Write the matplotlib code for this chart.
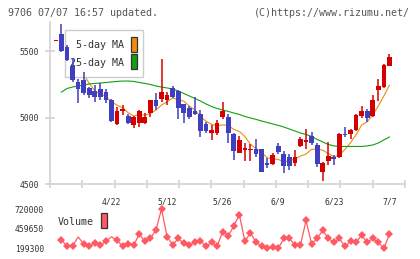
#!/usr/bin/env python3

import numpy as np
import matplotlib
matplotlib.use('Agg')
import matplotlib.pyplot as plt
from matplotlib.patches import Rectangle

# daily candles, oldest first
opens = [5575, 5625, 5532, 5388, 5270, 5283, 5220, 5203, 5213, 5195,
         5133, 4953, 5050, 5013, 4945, 4958, 4963, 5038, 5133, 5138,
         5133, 5220, 5200, 5103, 5075, 5050, 5028, 4953, 4888, 4888,
         5008, 5003, 4878, 4738, 4758, 4755, 4763, 4763, 4658, 4650,
         4788, 4728, 4703, 4663, 4788, 4818, 4863, 4795, 4595, 4678,
         4698, 4703, 4873, 4878, 4908, 5013, 5053, 5013, 5208, 5233,
         5390]
highs = [5580, 5700, 5545, 5445, 5288, 5345, 5228, 5245, 5258, 5218,
         5140, 5083, 5095, 5030, 5015, 5060, 5035, 5133, 5183, 5440,
         5195, 5235, 5205, 5103, 5088, 5153, 5058, 4968, 4945, 4983,
         5120, 5028, 4883, 4863, 4808, 4803, 4838, 4763, 4695, 4738,
         4808, 4753, 4728, 4758, 4858, 4915, 4895, 4810, 4668, 4820,
         4720, 4883, 4930, 4918, 5030, 5085, 5065, 5170, 5288, 5403,
         5478]
lows = [5575, 5495, 5425, 5265, 5108, 5170, 5150, 5120, 5133, 5110,
        4970, 4945, 5020, 4955, 4925, 4930, 4955, 5003, 5058, 5120,
        5095, 5150, 4988, 4958, 4990, 5020, 4853, 4883, 4833, 4870,
        4988, 4813, 4683, 4733, 4678, 4678, 4708, 4595, 4620, 4645,
        4728, 4588, 4605, 4635, 4778, 4762, 4795, 4633, 4528, 4645,
        4645, 4695, 4853, 4840, 4900, 4998, 4970, 5003, 5128, 5220,
        5385]
closes = [5580, 5500, 5433, 5283, 5213, 5188, 5170, 5158, 5153, 5133,
          4978, 5050, 5063, 4963, 5008, 5050, 5008, 5133, 5088, 5195,
          5170, 5153, 5070, 5033, 5008, 5025, 4903, 4903, 4908, 4963,
          5053, 4883, 4753, 4833, 4770, 4763, 4728, 4595, 4645, 4720,
          4745, 4638, 4638, 4703, 4838, 4823, 4813, 4653, 4658, 4713,
          4693, 4878, 4868, 4908, 5020, 5053, 4995, 5133, 5238, 5395,
          5458]

# 5-day MA, starts at candle 4
ma5 = [5402, 5323, 5257, 5202, 5176, 5160, 5118, 5094, 5075, 5037,
       5012, 5027, 5018, 5032, 5057, 5095, 5119, 5148, 5135, 5124,
       5087, 5058, 5008, 4974, 4949, 4940, 4946, 4942, 4912, 4897,
       4858, 4800, 4769, 4738, 4700, 4690, 4687, 4669, 4677, 4689,
       4712, 4727, 4762, 4765, 4756, 4731, 4706, 4719, 4762, 4812,
       4873, 4945, 4969, 5022, 5088, 5163, 5244]
# 25-day MA, starts at candle 1
ma25 = [5192, 5219, 5230, 5238, 5245, 5253, 5257, 5260, 5264, 5268,
        5272, 5275, 5275, 5272, 5264, 5257, 5249, 5238, 5230, 5223,
        5215, 5200, 5182, 5163, 5144, 5125, 5103, 5084, 5069, 5058,
        5047, 5035, 5024, 5009, 4998, 4987, 4975, 4964, 4953, 4942,
        4930, 4915, 4900, 4885, 4874, 4859, 4837, 4818, 4799, 4788,
        4784, 4784, 4784, 4784, 4784, 4788, 4795, 4810, 4833, 4855]

volume = [np.nan, 312100, 225300, 225300, 351200, 255700, 225300, 268700, 242700, 290400,
          351200, 307800, 225300, 255700, 242700, 385900, 290400, 329500, 442300, 720000,
          355500, 242700, 329500, 264400, 242700, 277400, 299100, 225300, 277400, 225300,
          420600, 364200, 494400, 646200, 290400, 407600, 277400, 225300, 199300, 212300,
          199300, 329500, 329500, 242700, 242700, 568100, 255700, 329500, 437900, 329500,
          277400, 329500, 225300, 290400, 277400, 372900, 277400, 329500, 277400, 199300,
          385900]
vol_ticks = [199300, 459650, 720000]

date_idx = [10, 20, 30, 40, 50, 60]
date_labels = ['4/22', '5/12', '5/26', '6/9', '6/23', '7/7']

UP = '#d40000'
DOWN = '#3f3fbf'
GRID = '#d6d6d6'
TXT = '#333333'
FONT = 'DejaVu Sans Mono'

W, H = 420, 259


def fx(px):
    return px / W


def fy(py):
    return 1 - py / H


def main():
    fig = plt.figure(figsize=(W / 100, H / 100), dpi=100)
    n = len(closes)
    x = np.arange(n)
    xlim = (-1.06, 62.8)

    ax = fig.add_axes([fx(50), fy(184.3), fx(405) - fx(50), fy(22) - fy(184.3)])
    ax.set_xlim(*xlim)
    ax.set_ylim(4500, 5718)

    # candles
    o = np.array(opens)
    c = np.array(closes)
    up = c >= o
    colors = np.where(up, UP, DOWN)
    ax.vlines(x, lows, highs, colors=colors, linewidth=1.1, zorder=3)
    bottom = np.minimum(o, c)
    height = np.maximum(np.abs(c - o), 11)
    ax.bar(x, height, bottom=bottom, width=0.85, color=colors, linewidth=0, zorder=3)

    ax.plot(x[4:], ma5, color='#f08c10', linewidth=0.8, zorder=2)
    ax.plot(x[1:], ma25, color='#10a010', linewidth=0.8, zorder=2)

    # legend box sits under the candles
    ax.add_patch(Rectangle((fx(65), fy(77.3)), fx(143.3) - fx(65), fy(30) - fy(77.3),
                           transform=fig.transFigure, facecolor='white', edgecolor='#cccccc',
                           linewidth=1.0, zorder=2.5))
    ax.text(fx(124), fy(45.5), '5-day MA', transform=fig.transFigure, ha='right', va='center',
            fontsize=7.2, family=FONT, color=TXT, zorder=2.6)
    ax.text(fx(124), fy(62.5), '25-day MA', transform=fig.transFigure, ha='right', va='center',
            fontsize=7.2, family=FONT, color=TXT, zorder=2.6)
    for top, col in ((37, '#f08c10'), (54, '#10a010')):
        ax.add_patch(Rectangle((fx(131), fy(top + 15)), fx(137) - fx(131), fy(top) - fy(top + 15),
                               transform=fig.transFigure, facecolor=col, edgecolor='#333333',
                               linewidth=0.9, zorder=2.6))

    for s in ('top', 'right'):
        ax.spines[s].set_visible(False)
    for s in ('left', 'bottom'):
        ax.spines[s].set_color(GRID)
        ax.spines[s].set_linewidth(1.3)

    ax.set_yticks([4500, 5000, 5500])
    ax.tick_params(axis='y', direction='inout', length=6.5, width=1.3, color=GRID,
                   pad=4.6, labelsize=5.8, labelcolor=TXT)
    ax.set_xticks(date_idx)
    ax.set_xticklabels(date_labels)
    ax.tick_params(axis='x', which='major', length=0, pad=9.5, labelsize=5.8, labelcolor=TXT)
    ax.set_xticks(np.linspace(xlim[0], xlim[1], 12), minor=True)
    ax.tick_params(axis='x', which='minor', direction='inout', length=5.3, width=1.3, color=GRID)
    for lab in ax.get_xticklabels() + ax.get_yticklabels():
        lab.set_family(FONT)

    # volume panel
    vax = fig.add_axes([fx(50), fy(252), fx(405) - fx(50), fy(205) - fy(252)])
    vax.set_xlim(*xlim)
    vax.set_ylim(150300, 773000)
    vcol = '#ff5a64'
    vax.plot(x, volume, color=vcol, linewidth=0.9)
    marks = [i for i in range(n) if i not in (0, 4, 10)]
    vax.plot(x[marks], np.array(volume)[marks], linestyle='none', marker='D',
             markersize=4.5, color=vcol, markeredgewidth=0)
    for s in vax.spines.values():
        s.set_visible(False)
    vax.set_xticks([])
    vax.set_yticks(vol_ticks)
    vax.set_yticklabels([str(v) for v in vol_ticks])
    vax.tick_params(axis='y', length=0, pad=4.3, labelsize=5.8, labelcolor=TXT)
    for lab in vax.get_yticklabels():
        lab.set_family(FONT)

    fig.text(fx(58), fy(222.3), 'Volume', ha='left', va='center', fontsize=7.2,
             family=FONT, color=TXT)
    fig.patches.append(Rectangle((fx(101), fy(228)), fx(107) - fx(101), fy(213) - fy(228),
                                 transform=fig.transFigure, figure=fig, facecolor=vcol,
                                 edgecolor='#333333', linewidth=0.9))

    fig.text(fx(8), fy(12.8), '9706 07/07 16:57 updated.', ha='left', va='center',
             fontsize=7.2, family=FONT, color='#555555')
    fig.text(fx(410), fy(12.8), '(C)https://www.rizumu.net/', ha='right', va='center',
             fontsize=7.2, family=FONT, color='#555555')

    fig.savefig('out.png', dpi=100)


if __name__ == '__main__':
    main()
